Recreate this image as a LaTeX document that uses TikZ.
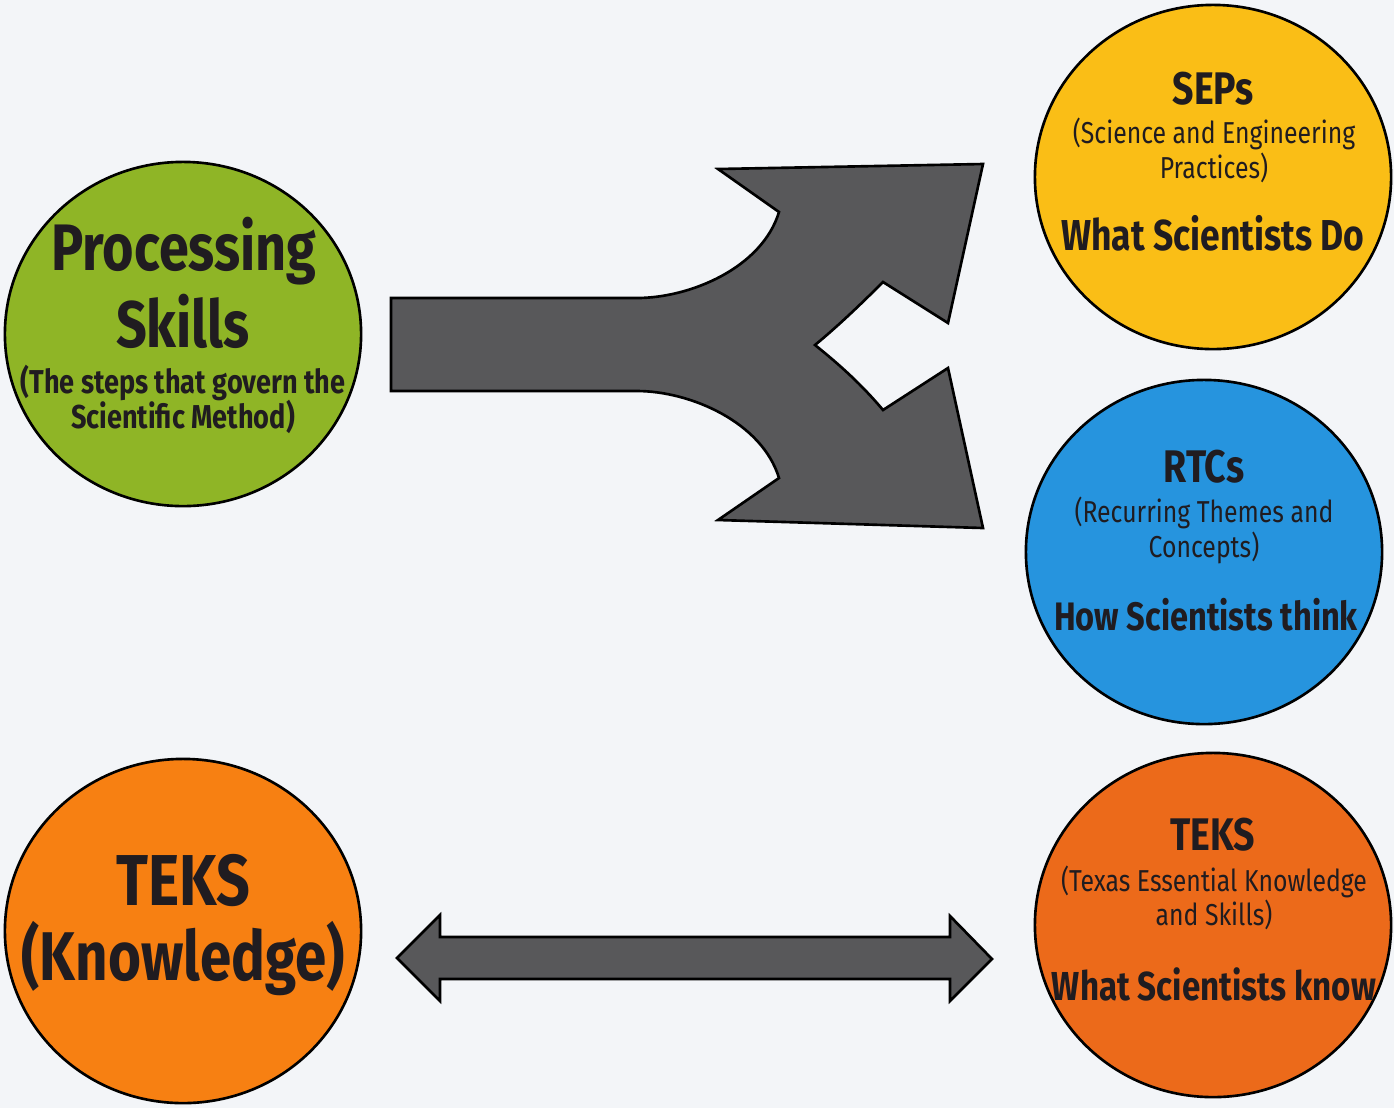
\documentclass[tikz,border=0pt]{standalone}
\usepackage{fontspec}
\setmainfont{Fira Sans}[FakeStretch=0.82]
\usepackage{tikz}
\usetikzlibrary{shapes.geometric}

\definecolor{paper}{RGB}{243,245,248}
\definecolor{limegreen}{RGB}{143,181,38}
\definecolor{sunyellow}{RGB}{250,190,22}
\definecolor{skyblue}{RGB}{38,148,222}
\definecolor{brightorange}{RGB}{247,128,18}
\definecolor{deeporange}{RGB}{236,106,26}
\definecolor{slate}{RGB}{88,88,90}
\definecolor{ink}{RGB}{32,28,32}

\begin{document}
\begin{tikzpicture}[x=0.01cm, y=-0.01cm,
    bubble/.style = {ellipse, draw=black, line width=0.75pt, minimum width=3.56cm, minimum height=3.44cm, inner sep=0pt},
    blockarrow/.style = {draw=black, line width=0.75pt, fill=slate, line join=miter},
    head/.style = {anchor=base, inner sep=0pt, text=ink, font=\bfseries\fontsize{13}{13}\selectfont},
    sub/.style = {anchor=base, inner sep=0pt, text=ink, font=\fontsize{8.6}{8.6}\selectfont},
    tag/.style = {anchor=base, inner sep=0pt, text=ink, font=\bfseries\fontsize{12.3}{12.3}\selectfont}]

    % page
    \fill[paper] (0,0) rectangle (1394,1108);
    \useasboundingbox (0,0) rectangle (1394,1108);

    % circles
    \node[bubble, fill=limegreen] (ps) at (183,334) {};
    \node[bubble, fill=sunyellow] (seps) at (1213,177) {};
    \node[bubble, fill=skyblue] (rtcs) at (1204,552) {};
    \node[bubble, fill=brightorange] (tk) at (183,931) {};
    \node[bubble, fill=deeporange] (teks) at (1213,925) {};

    % processing skills
    \node[head, font=\bfseries\fontsize{18.7}{18.7}\selectfont] (ps1) at (184,270) {Processing};
    \node[head, font=\bfseries\fontsize{18.7}{18.7}\selectfont] (ps2) at (183,347) {Skills};
    \node[head, font=\bfseries\fontsize{9.4}{9.4}\selectfont] (ps3) at (183,393) {(The steps that govern the};
    \node[head, font=\bfseries\fontsize{9.4}{9.4}\selectfont] (ps4) at (183,428) {Scientific Method)};

    % SEPs
    \node[head] (seps1) at (1213,104) {SEPs};
    \node[sub] (seps2) at (1214,143) {(Science and Engineering};
    \node[sub] (seps3) at (1214,178) {Practices)};
    \node[tag] (seps4) at (1213,250) {What Scientists Do};

    % RTCs
    \node[head] (rtcs1) at (1204,482) {RTCs};
    \node[sub] (rtcs2) at (1204,522) {(Recurring Themes and};
    \node[sub] (rtcs3) at (1204,557) {Concepts)};
    \node[tag, font=\bfseries\fontsize{11.3}{11.3}\selectfont] (rtcs4) at (1206,630) {How Scientists think};

    % TEKS right
    \node[head] (teks1) at (1213,850) {TEKS};
    \node[sub] (teks2) at (1214,891) {(Texas Essential Knowledge};
    \node[sub] (teks3) at (1214,925) {and Skills)};
    \node[tag, font=\bfseries\fontsize{11.5}{11.5}\selectfont] (teks4) at (1214,1000) {What Scientists know};

    % TEKS left
    \node[head, font=\bfseries\fontsize{20.5}{20.5}\selectfont] (tk1) at (183,905) {TEKS};
    \node[head, font=\bfseries\fontsize{19.6}{19.6}\selectfont] (tk2) at (183,980) {(Knowledge)};

    % fork arrow
    \draw[blockarrow] (391,298) -- (637,298)
        .. controls (690,298) and (762,268) .. (779,212)
        -- (718,169) -- (983,164) -- (948,323) -- (883,282)
        .. controls (860,305) and (838,326) .. (815,345)
        .. controls (840,365) and (862,385) .. (883,410)
        -- (948,368) -- (983,528) -- (718,520) -- (779,478)
        .. controls (762,422) and (690,391) .. (637,391)
        -- (391,391) -- cycle;

    % double arrow
    \coordinate (dl) at (397,958);
    \coordinate (dr) at (992,959);
    \draw[blockarrow] (dl) -- (440,915) -- (440,937) -- (950,937) -- (950,916)
        -- (dr) -- (950,1001) -- (950,979) -- (440,979) -- (440,1001) -- cycle;

\end{tikzpicture}
\end{document}
